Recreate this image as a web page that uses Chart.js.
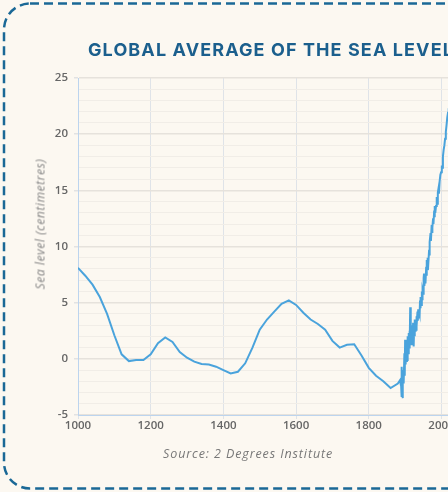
<!DOCTYPE html>
<html>
<head>
<meta charset="utf-8">
<script src="https://cdn.jsdelivr.net/npm/chart.js@4.4.1/dist/chart.umd.min.js"></script>
<style>
  html, body { margin: 0; padding: 0; background: #fcf8f1; overflow: hidden; width: 448px; height: 492px; }
  #frame { position: absolute; left: 0; top: 0; }
  #wrap { position: absolute; left: 0; top: 0; width: 560px; height: 492px; }
  .title { position: absolute; left: 88px; top: 39px; white-space: nowrap; font-family: Inter, sans-serif; font-weight: 700; font-size: 18px; letter-spacing: 1.1px; color: #1b5f8d; }
  .ytitle { position: absolute; left: 40px; top: 224px; transform: translate(-50%, -50%) rotate(-90deg); white-space: nowrap; font-family: "Open Sans", sans-serif; font-style: italic; font-size: 12px; letter-spacing: 0.6px; color: #858585; }
  .source { position: absolute; left: 163px; top: 445px; white-space: nowrap; font-family: "Open Sans", sans-serif; font-style: italic; font-size: 12.5px; letter-spacing: 0.9px; color: #777; }
</style>
</head>
<body>
<svg id="frame" width="448" height="492">
  <rect x="4" y="3.5" width="600" height="485" rx="26" ry="26" fill="none" stroke="#1a6896" stroke-width="2.5" stroke-dasharray="9 5"/>
</svg>
<div id="wrap"><canvas id="mycanvas" width="560" height="492"></canvas></div>
<div class="title">GLOBAL AVERAGE OF THE SEA LEVEL</div>
<div class="ytitle">Sea level (centimetres)</div>
<div class="source">Source: 2 Degrees Institute</div>
<script>
// reconstruction, every 20 years
var earlyYears = [1000, 1020, 1040, 1060, 1080, 1100, 1120, 1140, 1160, 1180,
  1200, 1220, 1240, 1260, 1280, 1300, 1320, 1340, 1360, 1380,
  1400, 1420, 1440, 1460, 1480, 1500, 1520, 1540, 1560, 1580,
  1600, 1620, 1640, 1660, 1680, 1700, 1720, 1740, 1760, 1780,
  1800, 1820, 1840, 1860, 1880];
var earlyLevel = [8.1, 7.4, 6.6, 5.5, 4.0, 2.1, 0.4, -0.2, -0.1, -0.1,
  0.4, 1.4, 1.9, 1.5, 0.6, 0.1, -0.25, -0.45, -0.5, -0.7,
  -1.0, -1.3, -1.15, -0.4, 1.0, 2.6, 3.5, 4.2, 4.9, 5.2,
  4.8, 4.1, 3.5, 3.1, 2.6, 1.6, 1.0, 1.25, 1.3, 0.3,
  -0.8, -1.5, -2.0, -2.6, -2.2];

// tide gauge / satellite era
var lateYears = [1884, 1886, 1888, 1889, 1890, 1891, 1892, 1893, 1894, 1896,
  1898, 1899, 1900, 1901, 1902, 1903, 1905, 1906, 1907, 1909,
  1910, 1911, 1912, 1913, 1914, 1915, 1916, 1917, 1918, 1919,
  1920, 1921, 1922, 1923, 1924, 1925, 1926, 1927, 1928, 1929,
  1930, 1931, 1932, 1934, 1935, 1936, 1937, 1938, 1940, 1941,
  1942, 1943, 1944, 1946, 1947, 1948, 1950, 1951, 1952, 1953,
  1955, 1956, 1958, 1959, 1960, 1961, 1962, 1964, 1966, 1967,
  1968, 1970, 1971, 1973, 1974, 1975, 1977, 1978, 1980, 1981,
  1982, 1983, 1985, 1987, 1988, 1990, 1992, 1993, 1995, 1997,
  1999, 2001, 2002, 2004, 2006, 2008, 2010, 2012, 2014, 2016,
  2018, 2020];
var lateLevel = [-2.0, -1.9, -2.3, -2.4, -3.4, -0.7, -2.8, -3.5, -1.0, -2.2,
  0.5, -1.5, 1.7, -0.5, 1.0, -0.2, 0.8, -0.1, 2.0, 0.5,
  2.3, 1.0, 2.5, 1.2, 4.6, 1.4, 2.7, 1.3, 3.0, 1.8,
  2.9, 1.5, 3.2, 1.8, 1.1, 3.0, 2.0, 3.5, 2.5, 3.5,
  2.6, 3.8, 2.9, 4.2, 3.4, 4.4, 3.6, 4.4, 4.0, 5.2,
  4.5, 5.5, 4.8, 6.0, 5.3, 6.1, 5.8, 7.2, 7.6, 6.5,
  7.3, 6.7, 8.2, 7.4, 8.8, 8.0, 9.0, 8.6, 9.7, 9.2,
  10.4, 11.2, 10.5, 11.9, 11.3, 11.7, 12.5, 12.0, 13.2, 12.6,
  13.6, 13.0, 13.6, 14.4, 13.8, 14.8, 15.2, 14.7, 15.8, 16.4,
  16.6, 17.2, 17.0, 18.0, 18.6, 19.0, 19.6, 20.2, 20.8, 21.5,
  21.9, 22.3];

var xTicks = [1000, 1200, 1400, 1600, 1800, 2000];
var yTicks = [-5, 0, 5, 10, 15, 20, 25];

var points = [];
for (var i in earlyYears) points.push({x: earlyYears[i], y: earlyLevel[i]});
for (var j in lateYears) points.push({x: lateYears[j], y: lateLevel[j]});

var tickFont = {family: "Open Sans", size: 11.5, weight: 600};

var ctx = document.getElementById("mycanvas");
var chart = new Chart(ctx, {
  type: 'line',
  data: {
    datasets: [{
      label: 'Sea level',
      data: points,
      borderColor: '#4aa3dc',
      borderWidth: 2,
      pointRadius: 0,
      tension: 0
    }]
  },
  options: {
    responsive: false,
    animation: false,
    layout: { padding: { left: 0, top: 78, right: 104, bottom: 47 } },
    plugins: { legend: { display: false }, tooltip: { enabled: false } },
    scales: {
      x: {
        type: 'linear',
        min: 1000,
        max: 2040,
        afterFit: function(s) { s.height = 30; },
        afterBuildTicks: function(s) { s.ticks = xTicks.map(function(v) { return {value: v}; }); },
        ticks: { color: '#666', font: tickFont, padding: 0, maxRotation: 0, autoSkip: false,
          callback: function(v) { return String(v); } },
        grid: { color: '#dfe3e8', tickColor: '#dfe3e8', tickLength: 4 },
        border: { color: '#bcd4ee' }
      },
      y: {
        min: -5,
        max: 25,
        afterFit: function(s) { s.width = 78; },
        ticks: { stepSize: 1, autoSkip: false, color: '#666', font: tickFont, padding: 6,
          callback: function(v) { return yTicks.indexOf(v) >= 0 ? v : ''; } },
        grid: {
          color: function(c) { return c.tick && c.tick.value % 5 === 0 ? '#e6e2dc' : '#f1ede7'; },
          lineWidth: function(c) { return c.tick && c.tick.value % 5 === 0 ? 1.5 : 1; },
          tickColor: function(c) { return c.tick && c.tick.value % 5 === 0 ? '#e2e2e2' : 'rgba(0,0,0,0)'; },
          tickLength: 4
        },
        border: { color: '#bcd4ee' }
      }
    }
  }
});
</script>
</body>
</html>
